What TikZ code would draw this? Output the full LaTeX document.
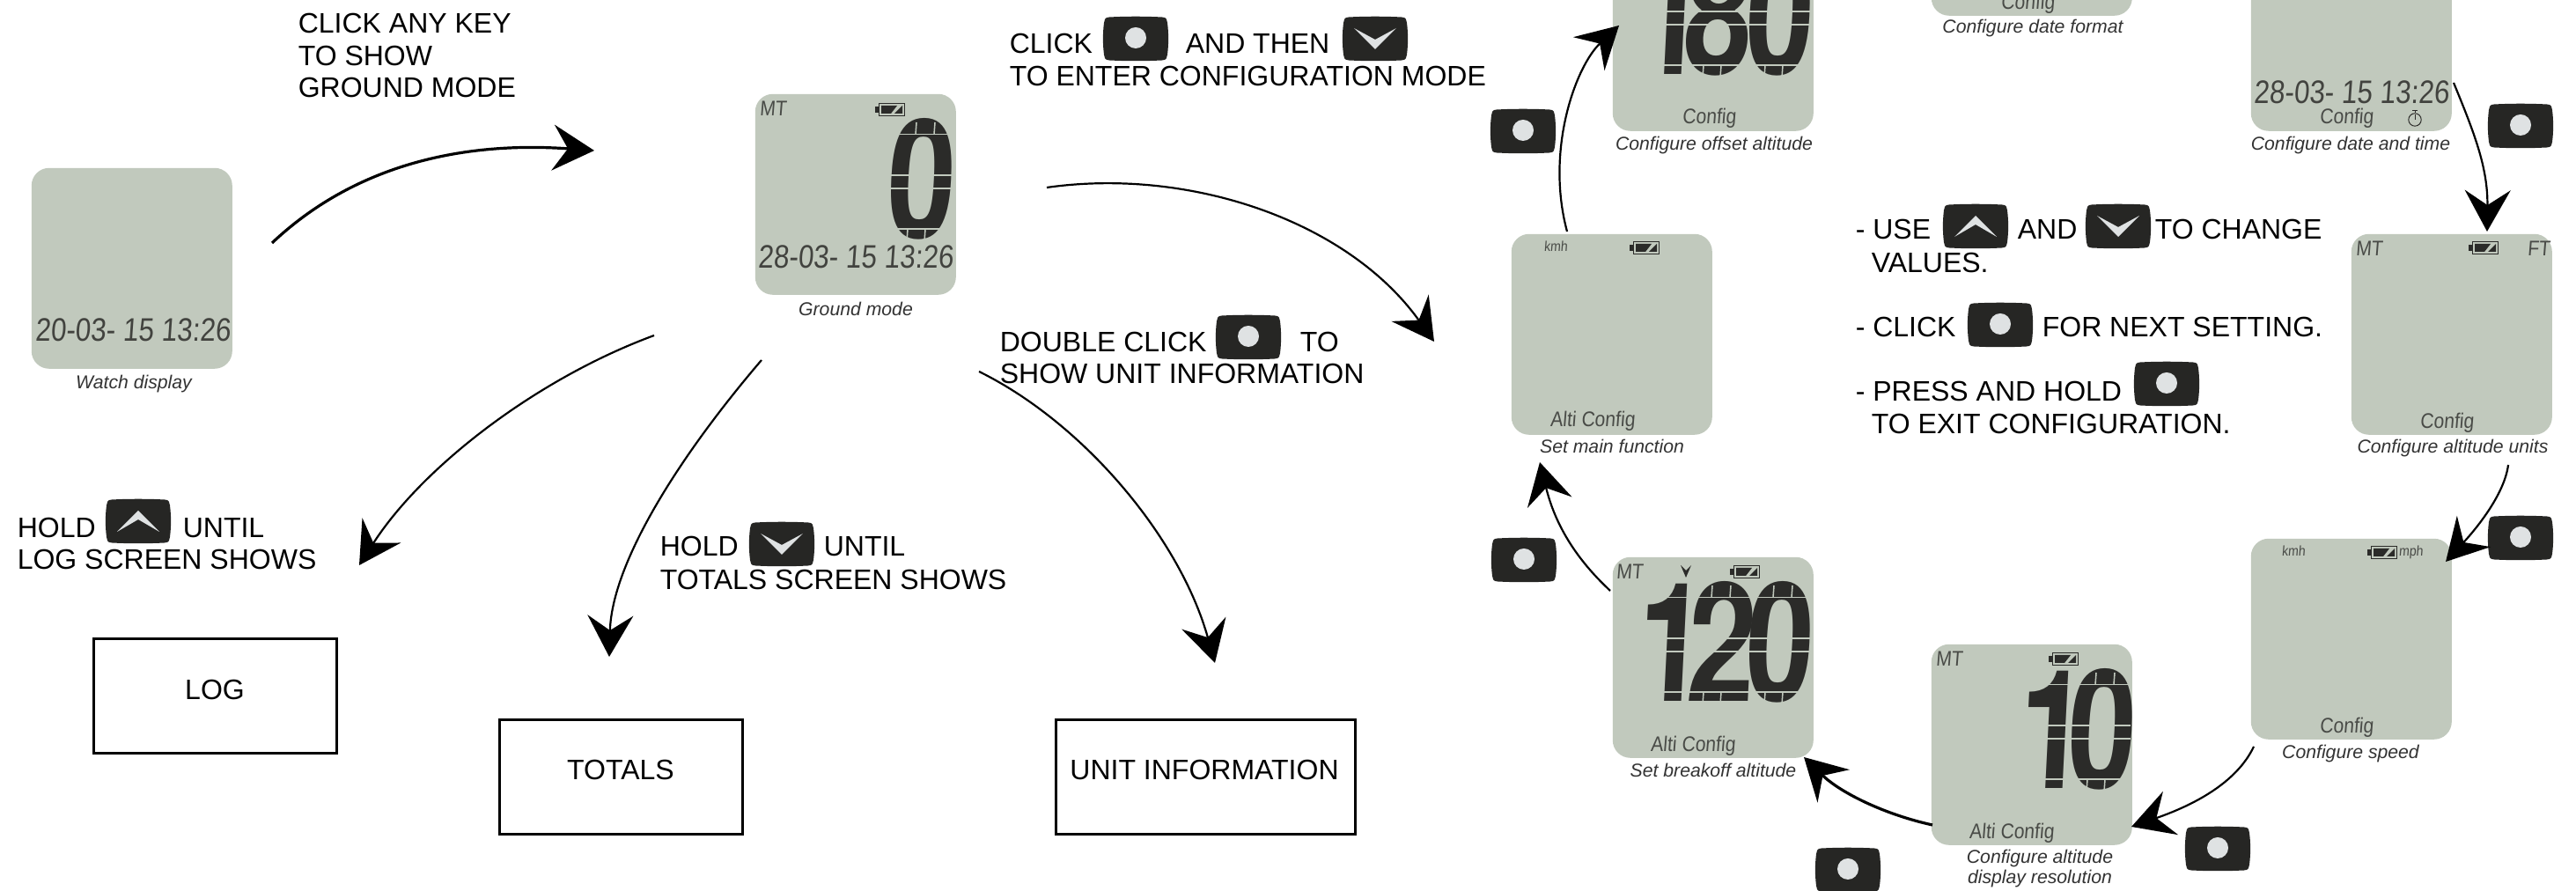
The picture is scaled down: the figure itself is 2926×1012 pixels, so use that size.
\documentclass[tikz,border=0pt]{standalone}
\usepackage{fontspec}
\setmainfont{Liberation Sans}
\newfontfamily\lcdfont[FakeStretch=.88,FakeSlant=.08]{Liberation Sans}
\newfontfamily\lcddate[FakeStretch=.85,FakeSlant=.07]{Liberation Sans}
\newfontfamily\lcdbig[FakeStretch=.74,FakeSlant=.05]{TeX Gyre Heros}
\usetikzlibrary{arrows.meta}
\definecolor{lcdbg}{HTML}{C1C9BD}
\definecolor{lcdink}{HTML}{2B2B29}
\definecolor{keydark}{HTML}{262624}
\definecolor{keylight}{HTML}{DFE2E3}
\definecolor{captcol}{HTML}{333333}
\newcommand{\lcdgaps}[3]{\foreach \d in {13.5,60,75,121} \draw[gapline] ({#1},{#3+\d}) -- ({#2},{#3+\d});}
\newcommand{\zerogaps}[2]{%
  \draw[gapline] ({#1+31},{#2}) -- ({#1+30},{#2+13.5});
  \draw[gapline] ({#1+52},{#2}) -- ({#1+51},{#2+13.5});
  \draw[gapline] ({#1+21},{#2+121}) -- ({#1+20},{#2+135});
  \draw[gapline] ({#1+41},{#2+121}) -- ({#1+40},{#2+135});}
\tikzset{
  x=0.25pt,y=-0.25pt,
  msg/.style={inner sep=0,anchor=base west,text=black,font=\fontsize{8}{9}\selectfont},
  boxlabel/.style={msg,anchor=base},
  capt/.style={inner sep=0,anchor=base,text=captcol,font=\itshape\fontsize{5.3}{6}\selectfont},
  screen/.style={anchor=north west,inner sep=0,fill=lcdbg,rounded corners=5pt,minimum width=57pt,minimum height=57pt},
  lcdtext/.style={inner sep=0,anchor=base west,text=lcdink!80!lcdbg,font=\lcdfont\fontsize{6}{7}\selectfont},
  lcdsmall/.style={lcdtext,font=\lcdfont\fontsize{4}{5}\selectfont},
  lcdclock/.style={inner sep=0,anchor=base west,text=lcdink!85!lcdbg,font=\lcddate\fontsize{9.25}{10}\selectfont},
  bigdigit/.style={inner sep=0,anchor=base west,text=lcdink,font=\lcdbig\bfseries\fontsize{47}{47}\selectfont},
  gapline/.style={draw=lcdbg,line width=.38pt},
  outbox/.style={draw=black,line width=.65pt,anchor=north west,inner sep=0,minimum width=#1,minimum height=32.5pt},
  flow/.style={-{Stealth[length=11.75pt,width=13pt,inset=4.25pt]},line width=.55pt},
  flowthick/.style={flow,line width=.8pt},
  pics/keybody/.style={code={
    \fill[keydark] (-30,-24.5) .. controls (-10,-25.5) and (10,-25.5) .. (30,-24.5)
      .. controls (35,-24.5) and (36,-21) .. (36,-18)
      .. controls (37.5,-6) and (37.5,6) .. (36,18)
      .. controls (36,21) and (35,24.5) .. (30,24.5)
      .. controls (10,25.5) and (-10,25.5) .. (-30,24.5)
      .. controls (-35,24.5) and (-36,21) .. (-36,18)
      .. controls (-37.5,6) and (-37.5,-6) .. (-36,-18)
      .. controls (-36,-21) and (-35,-24.5) .. (-30,-24.5) -- cycle;}},
  pics/okkey/.style={code={
    \pic {keybody};
    \fill[keylight] (0,-1) circle[radius=3pt];}},
  pics/upkey/.style={code={
    \pic {keybody};
    \fill[keylight] (-24,12) -- (0,-12) -- (24,12) -- (0,-2) -- cycle;}},
  pics/downkey/.style={code={
    \pic {keybody};
    \fill[keylight] (-24,-12) -- (0,1) -- (24,-12) -- (0,12) -- cycle;}},
  pics/battery/.style={code={
    \fill[lcdink] (0,4) rectangle (4,11);
    \draw[lcdink,line width=.3pt] (4.5,.5) rectangle (33.5,14.5);
    \fill[lcdink] (7,3) -- (25,3) -- (18,12) -- (7,12) -- cycle;
    \fill[lcdink] (31,3) -- (31,12) -- (22,12) -- cycle;}},
}
\begin{document}
\begin{tikzpicture}
\useasboundingbox (0,0) rectangle (2926,1012);
\clip (0,0) rectangle (2926,1012);
\fill[white] (0,0) rectangle (2926,1012);

% ---------- screens ----------
\node[screen] (watch) at (35,190) {};
\node[screen] (ground) at (857,106) {};
\node[screen] (offset) at (1831,-80) {};
\node[screen] (dformat) at (2193,-211) {};
\node[screen] (dtime) at (2556,-80) {};
\node[screen] (mainf) at (1716,265) {};
\node[screen] (units) at (2670,265) {};
\node[screen] (speed) at (2556,611) {};
\node[screen] (resol) at (2193,731) {};
\node[screen] (brkoff) at (1831,632) {};

% ---------- big digits ----------
\node[bigdigit] (dground) at (1005,271) {0};
\lcdgaps{1005}{1085}{139}\zerogaps{1010}{139}
\node[bigdigit] (doffset) at (1856.5,85) {1\kern-6pt 8\kern-1.9pt 0};
\lcdgaps{1870}{2058}{-47}\zerogaps{1984}{-47}\zerogaps{1914}{-47}
\node[bigdigit] (dbrk) at (1856.5,797) {1\kern-8.6pt{\fontsize{12}{12}\selectfont .}\kern1.2pt 2\kern-3pt 0};
\lcdgaps{1870}{2058}{665}\zerogaps{1984}{665}\zerogaps{1914}{665}
\node[bigdigit] (dres) at (2289.5,896) {1\kern-5.4pt 0};
\lcdgaps{2306}{2420}{764}\zerogaps{2350}{764}

% ---------- clock lines ----------
\node[lcdclock] (cwatch) at (39,388) {20-03- 15 13:26};
\node[lcdclock] (cground) at (860,305) {28-03- 15 13:26};
\node[lcdclock] (cdtime) at (2559,118) {28-03- 15 13:26};

% ---------- labels on screens ----------
\node[lcdtext] (mt1) at (862,132) {MT};
\node[lcdtext] (mt2) at (2675,291) {MT};
\node[lcdtext] (ft) at (2870,291) {FT};
\node[lcdtext] (mt3) at (2198,757) {MT};
\node[lcdtext] (mt4) at (1835,658) {MT};
\node[lcdsmall] (k1) at (1753,286) {kmh};
\node[lcdsmall] (k2) at (2591,632) {kmh};
\node[lcdsmall] (m1) at (2724,632) {mph};
\node[lcdtext] (cf1) at (1910,141) {Config};
\node[lcdtext] (cf2) at (2272,11) {Config};
\node[lcdtext] (cf3) at (2634,141) {Config};
\node[lcdtext] (cf4) at (2748,487) {Config};
\node[lcdtext] (cf5) at (2634,833) {Config};
\node[lcdtext] (ac1) at (1760,485) {Alti Config};
\node[lcdtext] (ac2) at (2236,953) {Alti Config};
\node[lcdtext] (ac3) at (1874,854) {Alti Config};

\pic at (994,117) {battery};
\pic at (1851,274) {battery};
\pic at (2804,274) {battery};
\pic at (2689,620) {battery};
\pic at (2327,741) {battery};
\pic at (1965,642) {battery};
\fill[lcdink] (1909,642) -- (1915,648) -- (1921,642) -- (1915,656) -- cycle;
\draw[lcdink,line width=.25pt] (2743,136) circle[radius=1.8pt];
\draw[lcdink,line width=.25pt] (2743,128.5) -- (2743,125.5) (2740,125.5) -- (2746,125.5) (2743,136) -- (2743,130);

% ---------- captions ----------
\node[capt] (c1) at (152,442) {Watch display};
\node[capt] (c2) at (972,359) {Ground mode};
\node[capt] (c3) at (2309,38) {Configure date format};
\node[capt] (c4) at (1947,171) {Configure offset altitude};
\node[capt] (c5) at (2670,171) {Configure date and time};
\node[capt] (c6) at (1831,515) {Set main function};
\node[capt] (c7) at (2786,515) {Configure altitude units};
\node[capt] (c8) at (2670,862) {Configure speed};
\node[capt] (c9) at (1946,883) {Set breakoff altitude};
\node[capt] (c10) at (2317,981) {Configure altitude};
\node[capt] (c11) at (2317,1004) {display resolution};

% ---------- instructions ----------
\node[msg] (t1) at (338,38) {CLICK ANY KEY};
\node[msg] (t2) at (338,75) {TO SHOW};
\node[msg] (t3) at (338,111) {GROUND MODE};
\node[msg] (t4) at (1146,61) {CLICK};
\node[msg] (t5) at (1346,61) {AND THEN};
\node[msg] (t6) at (1146,98) {TO ENTER CONFIGURATION MODE};
\node[msg] (t7) at (1135,400) {DOUBLE CLICK};
\node[msg] (t8) at (1476,400) {TO};
\node[msg] (t9) at (1135,436) {SHOW UNIT INFORMATION};
\node[msg] (t10) at (19,611) {HOLD};
\node[msg] (t11) at (207,611) {UNTIL};
\node[msg] (t12) at (19,647) {LOG SCREEN SHOWS};
\node[msg] (t13) at (749,632) {HOLD};
\node[msg] (t14) at (935,632) {UNTIL};
\node[msg] (t15) at (749,670) {TOTALS SCREEN SHOWS};
\node[msg] (t16) at (2107,272) {- USE};
\node[msg] (t17) at (2291,272) {AND};
\node[msg] (t18) at (2447,272) {TO CHANGE};
\node[msg] (t19) at (2125,310) {VALUES.};
\node[msg] (t20) at (2107,383) {- CLICK};
\node[msg] (t21) at (2319,383) {FOR NEXT SETTING.};
\node[msg] (t22) at (2107,456) {- PRESS AND HOLD};
\node[msg] (t23) at (2125,493) {TO EXIT CONFIGURATION.};

% ---------- keys ----------
\pic at (1290,44) {okkey};
\pic at (1562,44) {downkey};
\pic at (1418,383) {okkey};
\pic at (157,592) {upkey};
\pic at (888,618) {downkey};
\pic at (2244,257) {upkey};
\pic at (2406,257) {downkey};
\pic at (2272,369) {okkey};
\pic at (2461,436) {okkey};
\pic at (1730,149) {okkey};
\pic at (2863,143) {okkey};
\pic at (2863,611) {okkey};
\pic at (2519,964) {okkey};
\pic at (2099,988) {okkey};
\pic at (1731,636) {okkey};

% ---------- boxes ----------
\node[outbox=69pt] (logbox) at (105,724) {};
\node[outbox=69pt] (totbox) at (566,816) {};
\node[outbox=85pt] (unitbox) at (1198,816) {};
\node[boxlabel] (logt) at (244,795) {LOG};
\node[boxlabel] (tott) at (705,886) {TOTALS};
\node[boxlabel] (unitt) at (1368,886) {UNIT INFORMATION};

% ---------- connector ends ----------
\coordinate (a1s) at (309,276); \coordinate (a1e) at (675,171);
\coordinate (a2s) at (1189,213); \coordinate (a2e) at (1629,388);
\coordinate (a3s) at (743,381); \coordinate (a3e) at (408,642);
\coordinate (a4s) at (865,409); \coordinate (a4e) at (692,746);
\coordinate (a5s) at (1112,422); \coordinate (a5e) at (1380,753);
\coordinate (b1s) at (2787,94); \coordinate (b1e) at (2825,263);
\coordinate (b2s) at (2849,528); \coordinate (b2e) at (2778,638);
\coordinate (b3s) at (2560,848); \coordinate (b3e) at (2421,939);
\coordinate (b4s) at (2195,937); \coordinate (b4e) at (2049,860);
\coordinate (b5s) at (1829,671); \coordinate (b5e) at (1749,525);
\coordinate (b6s) at (1780,263); \coordinate (b6e) at (1839,29);

% ---------- connectors ----------
\draw[flowthick] (a1s) .. controls (400,190) and (520,160) .. (a1e);
\draw[flow] (a2s) .. controls (1350,190) and (1530,250) .. (a2e);
\draw[flow] (a3s) .. controls (610,430) and (480,530) .. (a3e);
\draw[flow] (a4s) .. controls (770,520) and (695,640) .. (a4e);
\draw[flow] (a5s) .. controls (1230,480) and (1340,610) .. (a5e);
\draw[flow] (b1s) .. controls (2810,150) and (2826,190) .. (b1e);
\draw[flow] (b2s) .. controls (2845,560) and (2815,598) .. (b2e);
\draw[flow] (b3s) .. controls (2540,890) and (2490,915) .. (b3e);
\draw[flowthick] (b4s) .. controls (2140,925) and (2090,900) .. (b4e);
\draw[flow] (b5s) .. controls (1785,630) and (1765,590) .. (b5e);
\draw[flow] (b6s) .. controls (1755,170) and (1790,75) .. (b6e);
\end{tikzpicture}
\end{document}
